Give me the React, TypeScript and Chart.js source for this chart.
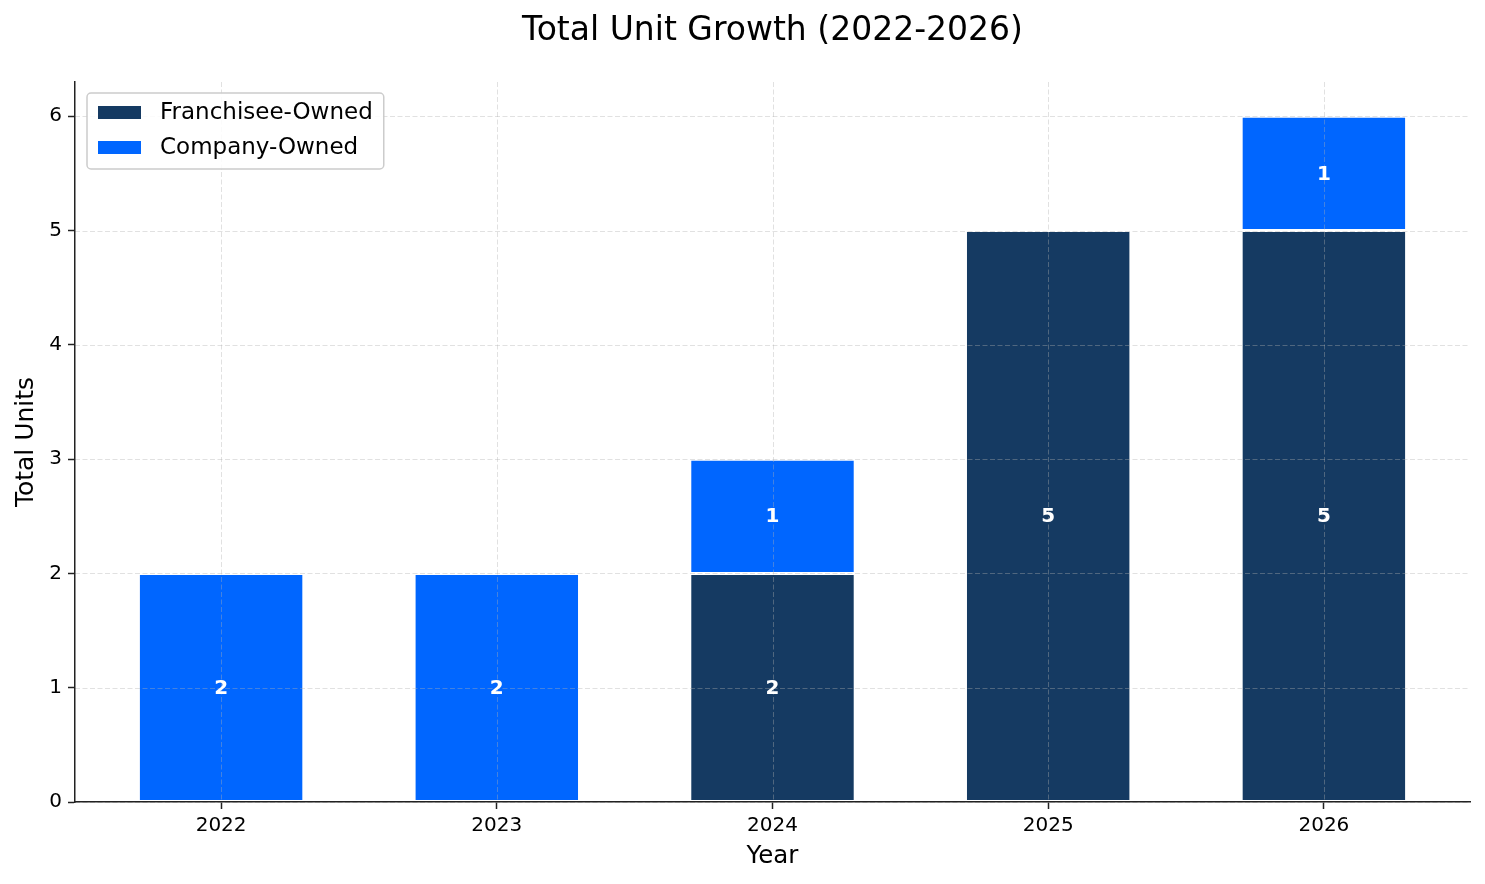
import { useEffect, useRef } from "react";
import { Chart, registerables } from "chart.js";

Chart.register(...registerables);

// Data
const years = ["2022", "2023", "2024", "2025", "2026"];
const franchiseeOwned = [0, 0, 2, 5, 5];
const companyOwned = [2, 2, 1, 0, 1];
const yTickValues = [0, 1, 2, 3, 4, 5, 6];
const chartTitle = "Total Unit Growth (2022-2026)";

const FONT = "'DejaVu Sans', 'Liberation Sans', sans-serif";
const NAVY = "#153A62";
const BLUE = "#0066FF";
const AXIS = "#222222";

// Title centred over the plot area
const axesTitle = {
  id: "axesTitle",
  afterDraw(chart: any) {
    const { ctx, chartArea } = chart;
    ctx.save();
    ctx.font = `33px ${FONT}`;
    ctx.fillStyle = "#000000";
    ctx.textAlign = "center";
    ctx.textBaseline = "alphabetic";
    ctx.fillText(chartTitle, (chartArea.left + chartArea.right) / 2, 40);
    ctx.restore();
  },
};

// Dashed light grid, drawn over the bars
const gridOverlay = {
  id: "gridOverlay",
  afterDatasetsDraw(chart: any) {
    const { ctx, chartArea } = chart;
    const xs = chart.scales.x;
    const ys = chart.scales.y;
    ctx.save();
    ctx.strokeStyle = "rgba(176,176,176,0.38)";
    ctx.lineWidth = 1;
    ctx.setLineDash([5, 2.5]);
    ys.ticks.forEach((t: any) => {
      const y = Math.round(ys.getPixelForValue(t.value)) + 0.5;
      ctx.beginPath();
      ctx.moveTo(chartArea.left, y);
      ctx.lineTo(chartArea.right, y);
      ctx.stroke();
    });
    xs.ticks.forEach((t: any) => {
      const x = Math.round(xs.getPixelForValue(t.value)) + 0.5;
      ctx.beginPath();
      ctx.moveTo(x, chartArea.top);
      ctx.lineTo(x, chartArea.bottom);
      ctx.stroke();
    });
    ctx.restore();
  },
};

// Value labels centred inside each stacked segment
const barLabels = {
  id: "barLabels",
  afterDraw(chart: any) {
    const { ctx } = chart;
    ctx.save();
    ctx.font = `bold 20px ${FONT}`;
    ctx.fillStyle = "#ffffff";
    ctx.textAlign = "center";
    ctx.textBaseline = "middle";
    chart.data.datasets.forEach((ds: any, di: number) => {
      const meta = chart.getDatasetMeta(di);
      meta.data.forEach((bar: any, i: number) => {
        const v = ds.data[i].y;
        if (!v) return;
        const { x, y, base } = bar.getProps(["x", "y", "base"], true);
        ctx.fillText(String(v), x, (y + base) / 2 + 1);
      });
    });
    ctx.restore();
  },
};

// Framed legend in the upper-left corner of the plot
const cornerLegend = {
  id: "cornerLegend",
  afterDraw(chart: any) {
    const { ctx, chartArea } = chart;
    const items = chart.data.datasets.map((ds: any) => ({
      label: ds.label,
      color: ds.backgroundColor,
    }));
    ctx.save();
    ctx.font = `23px ${FONT}`;
    const textW = Math.max(...items.map((it: any) => ctx.measureText(it.label).width));
    const left = chartArea.left + 12;
    const top = chartArea.top + 11;
    const pad = 11;
    const swW = 43;
    const swH = 13;
    const gap = 19;
    const rowH = 35;
    const w = pad + swW + gap + textW + pad;
    const h = 76;
    ctx.beginPath();
    ctx.roundRect(left, top, w, h, 4);
    ctx.fillStyle = "rgba(255,255,255,0.85)";
    ctx.fill();
    ctx.strokeStyle = "#cccccc";
    ctx.lineWidth = 1.5;
    ctx.stroke();
    ctx.textBaseline = "middle";
    ctx.textAlign = "left";
    items.forEach((it: any, i: number) => {
      const cy = top + 19.5 + i * rowH;
      ctx.fillStyle = it.color;
      ctx.fillRect(left + pad, cy - swH / 2, swW, swH);
      ctx.fillStyle = "#000000";
      ctx.fillText(it.label, left + pad + swW + gap, cy + 1);
    });
    ctx.restore();
  },
};

export default function App() {
  const canvasRef = useRef<HTMLCanvasElement | null>(null);

  useEffect(() => {
    if (!canvasRef.current) return;
    const chart = new Chart(canvasRef.current, {
      type: "bar",
      data: {
        datasets: [
          {
            label: "Franchisee-Owned",
            data: franchiseeOwned.map((v, i) => ({ x: i, y: v })),
            backgroundColor: NAVY,
            borderColor: "#ffffff",
            borderWidth: 1.5,
            borderSkipped: false,
            categoryPercentage: 1,
            barPercentage: 0.6,
          },
          {
            label: "Company-Owned",
            data: companyOwned.map((v, i) => ({ x: i, y: v })),
            backgroundColor: BLUE,
            borderColor: "#ffffff",
            borderWidth: 1.5,
            borderSkipped: false,
            categoryPercentage: 1,
            barPercentage: 0.6,
          },
        ],
      },
      options: {
        responsive: false,
        animation: false,
        layout: { padding: { left: 0, right: 15, top: 82, bottom: 0 } },
        plugins: {
          legend: { display: false },
          tooltip: { enabled: false },
          title: { display: false },
        },
        scales: {
          x: {
            type: "linear",
            stacked: true,
            min: -0.53,
            max: 4.53,
            offset: false,
            afterBuildTicks: (scale: any) => {
              scale.ticks = years.map((_, i) => ({ value: i }));
            },
            afterFit: (scale: any) => {
              scale.height = 82;
            },
            ticks: {
              autoSkip: false,
              maxRotation: 0,
              padding: 5,
              color: "#000000",
              font: { family: FONT, size: 20 },
              callback: (v: any) => years[v as number] ?? "",
            },
            grid: {
              offset: false,
              drawOnChartArea: false,
              drawTicks: true,
              tickLength: 7,
              tickColor: AXIS,
              tickWidth: 1.5,
            },
            border: { display: true, color: AXIS, width: 1.5, z: 1 },
            title: {
              display: true,
              text: "Year",
              color: "#000000",
              font: { family: FONT, size: 24.5 },
              padding: { top: 0, bottom: 13 },
            },
          },
          y: {
            type: "linear",
            stacked: true,
            min: 0,
            max: 6.3,
            afterBuildTicks: (scale: any) => {
              scale.ticks = yTickValues.map((v) => ({ value: v }));
            },
            afterFit: (scale: any) => {
              scale.width = 75;
            },
            ticks: {
              padding: 6,
              color: "#000000",
              font: { family: FONT, size: 20 },
              callback: (v: any) => String(v),
            },
            grid: {
              offset: false,
              drawOnChartArea: false,
              drawTicks: true,
              tickLength: 7,
              tickColor: AXIS,
              tickWidth: 1.5,
            },
            border: { display: true, color: AXIS, width: 1.5, z: 1 },
            title: {
              display: true,
              text: "Total Units",
              color: "#000000",
              font: { family: FONT, size: 25 },
              padding: { top: 11, bottom: 0 },
            },
          },
        },
      },
      plugins: [gridOverlay, barLabels, cornerLegend, axesTitle],
    } as any);
    return () => chart.destroy();
  }, []);

  return (
    <div style={{ position: "fixed", left: 0, top: 0, width: 1485, height: 884, background: "#ffffff" }}>
      <canvas ref={canvasRef} width={1485} height={884} style={{ display: "block" }} />
    </div>
  );
}
